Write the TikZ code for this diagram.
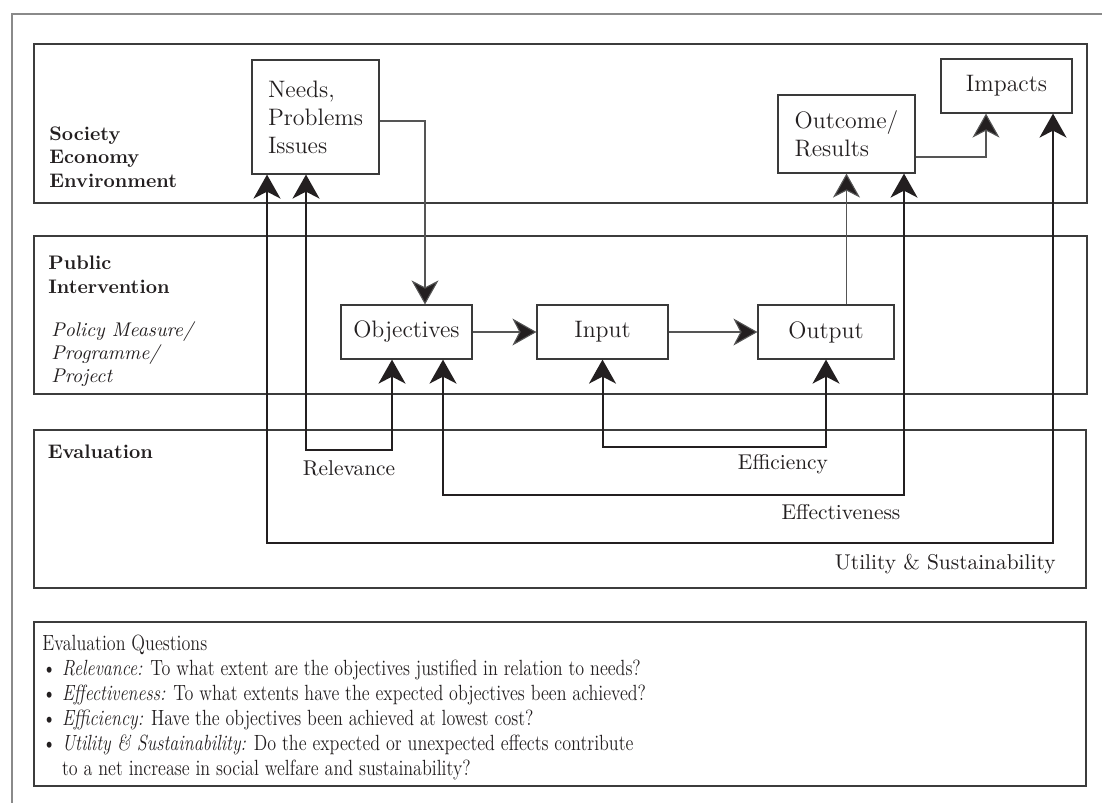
\documentclass[tikz,border=0pt]{standalone}
\usetikzlibrary{arrows.meta,calc}
\definecolor{outercol}{HTML}{8A8A8A}
\definecolor{bandcol}{HTML}{3C3C3C}
\definecolor{boxcol}{HTML}{3A3A3A}
\definecolor{flowcol}{HTML}{555555}
\definecolor{evalcol}{HTML}{231F20}
\begin{document}
\begin{tikzpicture}[x=0.5pt,y=-0.5pt,
  tip/.tip={Stealth[length=12pt,width=13.5pt,inset=3.5pt]},
  band/.style={draw=bandcol, line width=0.6pt},
  box/.style={draw=boxcol, line width=0.6pt, fill=white, inner sep=0pt, align=left,
    font=\fontsize{11.9}{14}\selectfont, text=evalcol},
  flow/.style={draw=flowcol, line width=0.55pt, -{tip[fill=evalcol]}},
  evalarrow/.style={draw=evalcol, line width=1pt, {tip}-{tip}},
  bandlabel/.style={font=\fontsize{9.8}{11.75}\selectfont\bfseries, align=left, inner sep=0pt, text=evalcol},
  itlabel/.style={font=\fontsize{9.9}{11.7}\selectfont\itshape, align=left, inner sep=0pt, text=evalcol},
  evlabel/.style={font=\fontsize{10.7}{12}\selectfont, inner sep=0pt, text=evalcol}
]
\useasboundingbox (0,0) rectangle (1102,803);
\fill[white] (0,0) rectangle (1102,803);
% outer frame (cut by the page)
\draw[outercol, line width=0.8pt] (1102,14) -- (12,14) -- (12,803);
% bands
\draw[band] (34,44) rectangle (1087,203);
\draw[band] (34,236) rectangle (1087,394);
\draw[band] (34,430) rectangle (1086,588);
\draw[band] (34,622) rectangle (1086,786);
% band labels
\node[bandlabel, anchor=west] (soc) at (49,157) {Society\\Economy\\Environment};
\node[bandlabel, anchor=west] (pub) at (48,275) {Public\\Intervention};
\node[itlabel, anchor=west] (pol) at (51,354) {Policy Measure/\\Programme/\\Project};
\node[bandlabel, anchor=west] (evl) at (47.5,452) {Evaluation};
% boxes
\node[box, minimum width=63.5pt, minimum height=57pt] (needs) at (315.5,117) {Needs,\\Problems\\Issues};
\node[box, minimum width=68.5pt, minimum height=39pt] (outcome) at (846.5,134) {Outcome/\\Results};
\node[box, minimum width=65.5pt, minimum height=27pt] (impacts) at (1006.5,86) {Impacts};
\node[box, minimum width=65.5pt, minimum height=27pt] (obj) at (406.5,332) {Objectives};
\node[box, minimum width=65.5pt, minimum height=27pt] (input) at (602.5,332) {Input};
\node[box, minimum width=68pt, minimum height=27pt] (output) at (826,332) {Output};
% flow connectors
\draw[flow] ($(needs.east)+(0,4)$) -| ($(obj.north)+(18.5,0)$);
\draw[flow] (obj.east) -- (input.west);
\draw[flow] (input.east) -- (output.west);
\draw[flow] (output.north -| outcome.south) -- (outcome.south);
\draw[flow] ($(outcome.east)+(0,23)$) -| ($(impacts.south)+(-20.5,0)$);
% evaluation loops
\coordinate (relc) at (350,450);
\coordinate (efcc) at (714,447);
\coordinate (effc) at (670,495);
\coordinate (utc) at (660,543);
\draw[evalarrow] ($(needs.south)+(-9.5,0)$) |- (relc) -| ($(obj.south)+(-14.5,0)$);
\draw[evalarrow] (input.south) |- (efcc) -| (output.south);
\draw[evalarrow] ($(obj.south)+(36.5,0)$) |- (effc) -| ($(outcome.south)+(57.5,0)$);
\draw[evalarrow] ($(needs.south)+(-48.5,0)$) |- (utc) -| ($(impacts.south)+(46.5,0)$);
% loop labels
\node[evlabel] (lrel) at (349,468) {Relevance};
\node[evlabel] (lefc) at (783,464) {Efficiency};
\node[evlabel] (leff) at (841,512) {Effectiveness};
\node[evlabel, anchor=east] (lut) at (1056,564) {Utility \& Sustainability};
% questions
\node[anchor=north west, inner sep=0pt, font=\fontsize{11}{12.5}\selectfont, text=evalcol] (qs) at (42,632.5)
{\scalebox{0.82}[1]{\begin{tabular}{@{}l@{}}
Evaluation Questions\\
\textbullet\ \textit{Relevance:} To what extent are the objectives justified in relation to needs?\\
\textbullet\ \textit{Effectiveness:} To what extents have the expected objectives been achieved?\\
\textbullet\ \textit{Efficiency:} Have the objectives been achieved at lowest cost?\\
\textbullet\ \textit{Utility \& Sustainability:} Do the expected or unexpected effects contribute\\
\phantom{\textbullet\ }to a net increase in social welfare and sustainability?
\end{tabular}}};
\end{tikzpicture}
\end{document}
